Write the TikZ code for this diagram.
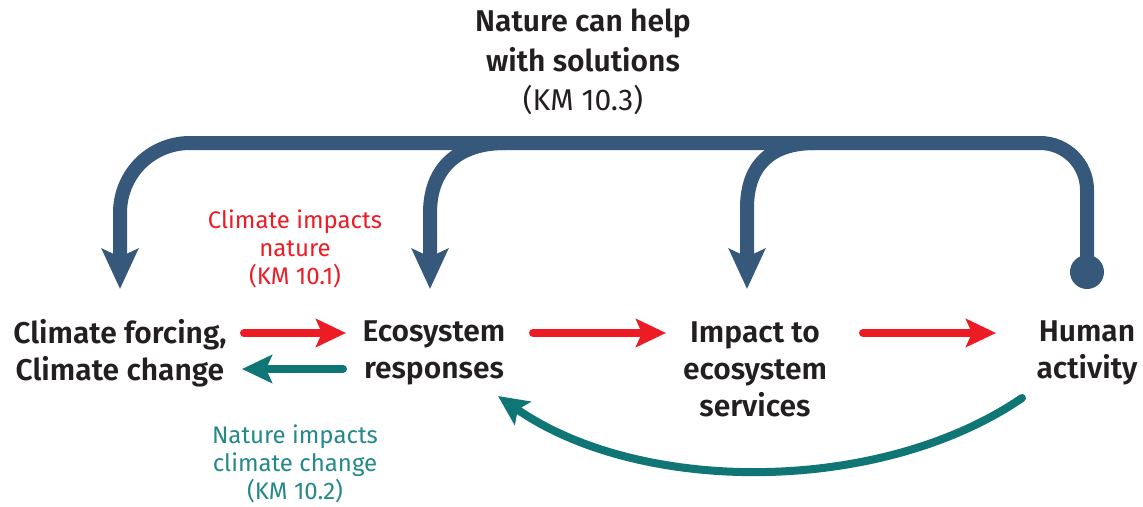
\documentclass[tikz,border=0pt]{standalone}
\usepackage{fontspec}
\setmainfont{Fira Sans}[BoldFont={Fira Sans SemiBold}]
\usetikzlibrary{arrows.meta}
\definecolor{navy}{HTML}{36587A}
\definecolor{cred}{HTML}{ED1C24}
\definecolor{teal}{HTML}{0F7575}
\definecolor{tealtxt}{HTML}{23898A}
\definecolor{ink}{HTML}{231F20}
\tikzset{
  box/.style={align=center, inner sep=0pt, text=ink, font=\fontsize{30}{37}\selectfont\bfseries},
  heading/.style={align=center, inner sep=0pt, text=ink, font=\fontsize{30}{39.5}\selectfont\bfseries},
  note/.style={align=center, inner sep=0pt, font=\fontsize{24}{28}\selectfont},
  bar/.style={draw=navy, line width=14pt, -{Stealth[length=40pt,width=36pt,inset=8pt]}},
  flowred/.style={draw=cred, line width=8pt, line cap=round, -{Stealth[length=30pt,width=28pt,inset=6pt]}},
  flowteal/.style={draw=teal, line width=8pt, line cap=round, -{Stealth[length=30pt,width=28pt,inset=6pt]}},
}
\begin{document}
\begin{tikzpicture}[x=1pt,y=-1pt]
\useasboundingbox (0,0) rectangle (1143,506);
% nodes
\node[heading] (title) at (583,62) {Nature can help\\with solutions\\\mdseries (KM 10.3)};
\node[box] (climate) at (120,353) {Climate forcing,\\Climate change};
\node[box] (eco) at (434,353) {Ecosystem\\responses};
\node[box] (impact) at (755,369) {Impact to\\ecosystem\\services};
\node[box] (human) at (1087,353) {Human\\activity};
\node[note, text=cred] (cin) at (295,249) {Climate impacts\\nature\\(KM 10.1)};
\node[note, text=tealtxt] (nic) at (295,464) {Nature impacts\\climate change\\(KM 10.2)};
% coordinates
\coordinate (dot) at (1087,272);
\coordinate (tipC) at (120,289);
\coordinate (tipE) at (430,289);
\coordinate (tipI) at (747,289);
% top bar
\fill[navy] (dot) circle (17pt);
\draw[bar] (dot) -- (1087,190) .. controls (1087,164) and (1066,143) .. (1040,143)
  -- (190,143) .. controls (151,143) and (120,174) .. (120,213) -- (tipC);
\draw[bar] (505,143) .. controls (458,143) and (430,168) .. (430,213) -- (tipE);
\draw[bar] (815,143) .. controls (770,143) and (747,166) .. (747,208) -- (tipI);
% flows
\draw[flowred] (244,333) -- (346,333);
\draw[flowteal] (343,369) -- (242,369);
\draw[flowred] (533,333) -- (666,333);
\draw[flowred] (863,333) -- (996,333);
\draw[flowteal] (1022,398) .. controls (880,495) and (640,495) .. (498,396);
\end{tikzpicture}
\end{document}
